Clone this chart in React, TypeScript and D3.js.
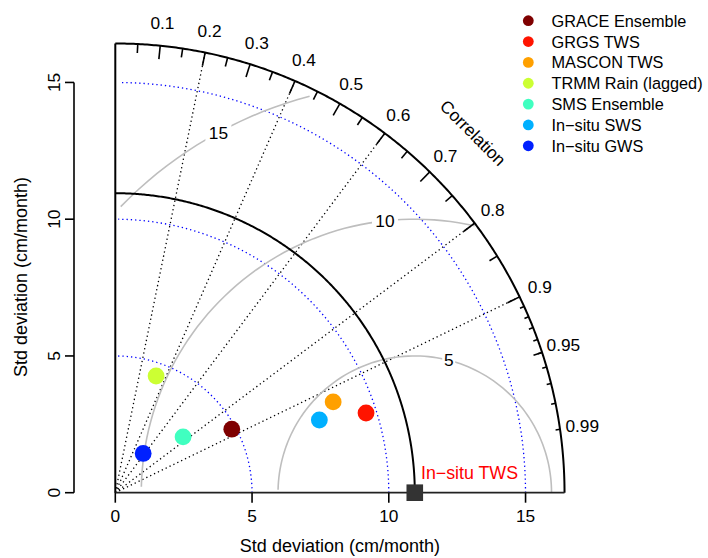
import React from 'react';
import * as d3 from 'd3';

// ---------- data ----------
const refName = 'In\u2212situ TWS';
const refSD = 10.95;
const modelNames = [
  'GRACE Ensemble',
  'GRGS TWS',
  'MASCON TWS',
  'TRMM Rain (lagged)',
  'SMS Ensemble',
  'In\u2212situ SWS',
  'In\u2212situ GWS',
];
const modelSD = [4.85, 9.62, 8.63, 4.52, 3.21, 7.92, 1.76];
const modelCorr = [0.878, 0.953, 0.923, 0.33, 0.772, 0.942, 0.579];
const modelColors = ['#7F0000', '#FF1400', '#FFA000', '#CCFF33', '#40FFC0', '#00B0FF', '#0020FF'];
const sdTicks = [0, 5, 10, 15];
const sdArcs = [5, 10, 15];
const gammaLevels = [5, 10, 15];
const corrGridLines = [0.2, 0.4, 0.6, 0.8, 0.9];
const corrLabels = [0.1, 0.2, 0.3, 0.4, 0.5, 0.6, 0.7, 0.8, 0.9, 0.95, 0.99];
const corrBigTicks = [0.1, 0.2, 0.3, 0.4, 0.5, 0.6, 0.7, 0.8, 0.9];
const corrMedTicks = [0.05, 0.15, 0.25, 0.35, 0.45, 0.55, 0.65, 0.75, 0.85, 0.95];
const corrSmallTicks = [0.91, 0.92, 0.93, 0.94, 0.95, 0.96, 0.97, 0.98, 0.99];

// ---------- layout ----------
const W = 708;
const H = 558;
const OX = 115.3;
const OY = 492.7;
const K = 27.35;
const FONT = '"Liberation Sans", Arial, Helvetica, sans-serif';

export default function App() {
  const sdMax = 1.5 * refSD;
  const x = d3.scaleLinear().domain([0, sdMax]).range([OX, OX + sdMax * K]);
  const y = d3.scaleLinear().domain([0, sdMax]).range([OY, OY - sdMax * K]);
  const line = d3
    .line<[number, number]>()
    .x((d) => x(d[0]))
    .y((d) => y(d[1]));

  const arc = (r: number, angles: number[]) =>
    line(angles.map((a) => [r * Math.cos(a), r * Math.sin(a)] as [number, number])) || '';

  const quarter = d3.range(0, 1.5708, 0.005).concat([Math.PI / 2]);
  const sdArcAngles = d3.range(0, Math.PI / 2, 0.03);

  // gamma (centred RMS) arcs, plotrix-style
  const gammaT = d3.range(0, Math.PI, 0.03);
  const gammaLabelPos = d3.range(gammaLevels.length).map((i) =>
    Math.floor(45 + (gammaLevels.length > 1 ? (25 * i) / (gammaLevels.length - 1) : 0)) - 1
  );
  const gammaItems = gammaLevels.map((g, gi) => {
    const xs = gammaT.map((t) => Math.cos(t) * g + refSD);
    const ys = gammaT.map((t) => Math.sin(t) * g);
    let end = xs.findIndex((v) => v < 0);
    end = end >= 0 ? end - 1 : xs.length - 1;
    let start = 0;
    xs.forEach((v, i) => {
      if (v * v + ys[i] * ys[i] > sdMax * sdMax) start = i + 1;
    });
    const pts: [number, number][] = [];
    for (let i = start; i <= end; i++) pts.push([xs[i], ys[i]]);
    const lp = gammaLabelPos[gi];
    return { g, d: line(pts) || '', lx: x(xs[lp]), ly: y(ys[lp]) };
  });

  const tick = (c: number, frac: number) => {
    const a = Math.acos(c);
    return {
      x1: x(sdMax * Math.cos(a)),
      y1: y(sdMax * Math.sin(a)),
      x2: x(frac * sdMax * Math.cos(a)),
      y2: y(frac * sdMax * Math.sin(a)),
    };
  };

  const tickFs = 17.3;

  return (
    <svg
      width={W}
      height={H}
      viewBox={`0 0 ${W} ${H}`}
      style={{ position: 'absolute', left: 0, top: 0, background: '#fff' }}
      fontFamily={FONT}
    >
      <rect x={0} y={0} width={W} height={H} fill="#fff" />

      {/* sd arcs (blue dotted) */}
      {sdArcs.map((r) => (
        <path
          key={'sd' + r}
          d={arc(r, sdArcAngles)}
          fill="none"
          stroke="#0000FF"
          strokeWidth={1.3}
          strokeDasharray="1.3,3"
        />
      ))}

      {/* correlation grid lines */}
      {corrGridLines.map((c) => {
        const a = Math.acos(c);
        return (
          <line
            key={'cg' + c}
            x1={x(0)}
            y1={y(0)}
            x2={x(sdMax * Math.cos(a))}
            y2={y(sdMax * Math.sin(a))}
            stroke="#000"
            strokeWidth={1.3}
            strokeDasharray="1.3,3"
          />
        );
      })}

      {/* gamma arcs */}
      {gammaItems.map((gi) => (
        <path key={'g' + gi.g} d={gi.d} fill="none" stroke="#BEBEBE" strokeWidth={1.6} />
      ))}
      {gammaItems.map((gi) => {
        const w = String(gi.g).length * tickFs * 0.556 * 1.35;
        return (
          <g key={'gl' + gi.g}>
            <rect x={gi.lx - w / 2} y={gi.ly - 9} width={w} height={18} fill="#fff" />
            <text
              x={gi.lx}
              y={gi.ly}
              textAnchor="middle"
              dominantBaseline="central"
              fontSize={tickFs}
              fill="#000"
            >
              {gi.g}
            </text>
          </g>
        );
      })}

      {/* reference sd arc */}
      <path d={arc(refSD, quarter)} fill="none" stroke="#000" strokeWidth={2} />

      {/* outer arc and axes of the diagram */}
      <path d={arc(sdMax, quarter)} fill="none" stroke="#000" strokeWidth={2} />
      <line x1={x(0)} y1={y(0)} x2={x(0)} y2={y(sdMax)} stroke="#000" strokeWidth={2} />
      <line x1={x(0)} y1={y(0)} x2={x(sdMax)} y2={y(0)} stroke="#222" strokeWidth={1.8} />

      {/* correlation ticks */}
      {corrBigTicks.map((c) => {
        const t = tick(c, 0.97);
        return <line key={'bt' + c} {...t} stroke="#000" strokeWidth={1.6} />;
      })}
      {corrMedTicks.map((c) => {
        const t = tick(c, 0.98);
        return <line key={'mt' + c} {...t} stroke="#000" strokeWidth={1.6} />;
      })}
      {corrSmallTicks.map((c) => {
        const t = tick(c, 0.99);
        return <line key={'st' + c} {...t} stroke="#000" strokeWidth={1.6} />;
      })}

      {/* correlation labels */}
      {corrLabels.map((c) => {
        const a = Math.acos(c);
        return (
          <text
            key={'cl' + c}
            x={x(1.05 * sdMax * Math.cos(a))}
            y={y(1.05 * sdMax * Math.sin(a))}
            textAnchor="middle"
            dominantBaseline="central"
            fontSize={tickFs}
            fill="#000"
          >
            {String(c)}
          </text>
        );
      })}
      <text
        transform="translate(473,133) rotate(45)"
        textAnchor="middle"
        dominantBaseline="central"
        fontSize={tickFs}
        fill="#000"
      >
        Correlation
      </text>

      {/* x axis ticks and labels */}
      {sdTicks.map((v) => (
        <g key={'xt' + v}>
          <line x1={x(v)} y1={OY} x2={x(v)} y2={OY + 10} stroke="#000" strokeWidth={1.6} />
          <text x={x(v)} y={OY + 29} textAnchor="middle" fontSize={tickFs} fill="#000">
            {v}
          </text>
        </g>
      ))}
      <text x={x(sdMax / 2)} y={552} textAnchor="middle" fontSize={18} fill="#000">
        Std deviation (cm/month)
      </text>

      {/* left y axis */}
      <line x1={74} y1={y(0)} x2={74} y2={y(15)} stroke="#000" strokeWidth={1.6} />
      {sdTicks.map((v) => (
        <g key={'yt' + v}>
          <line x1={65} y1={y(v)} x2={74} y2={y(v)} stroke="#000" strokeWidth={1.6} />
          <text
            transform={`translate(59.5,${y(v)}) rotate(-90)`}
            textAnchor="middle"
            fontSize={tickFs}
            fill="#000"
          >
            {v}
          </text>
        </g>
      ))}
      <text
        transform="translate(27,277) rotate(-90)"
        textAnchor="middle"
        fontSize={18}
        fill="#000"
      >
        Std deviation (cm/month)
      </text>

      {/* reference point */}
      <rect x={x(refSD) - 8.3} y={y(0) - 8.3} width={16.6} height={16.6} fill="#333" />
      <text x={421} y={479} fontSize={17.8} fill="#FF0000">
        {refName}
      </text>

      {/* model points */}
      {modelNames.map((n, i) => {
        const a = Math.acos(modelCorr[i]);
        return (
          <circle
            key={'p' + n}
            cx={x(modelSD[i] * Math.cos(a))}
            cy={y(modelSD[i] * Math.sin(a))}
            r={8.4}
            fill={modelColors[i]}
          />
        );
      })}

      {/* legend */}
      {modelNames.map((n, i) => (
        <g key={'lg' + n} transform={`translate(0,${20.7 + i * 20.85})`}>
          <circle cx={528.3} cy={0} r={5.4} fill={modelColors[i]} />
          <text x={551.5} y={0} dominantBaseline="central" fontSize={16.3} fill="#000">
            {n}
          </text>
        </g>
      ))}
    </svg>
  );
}
